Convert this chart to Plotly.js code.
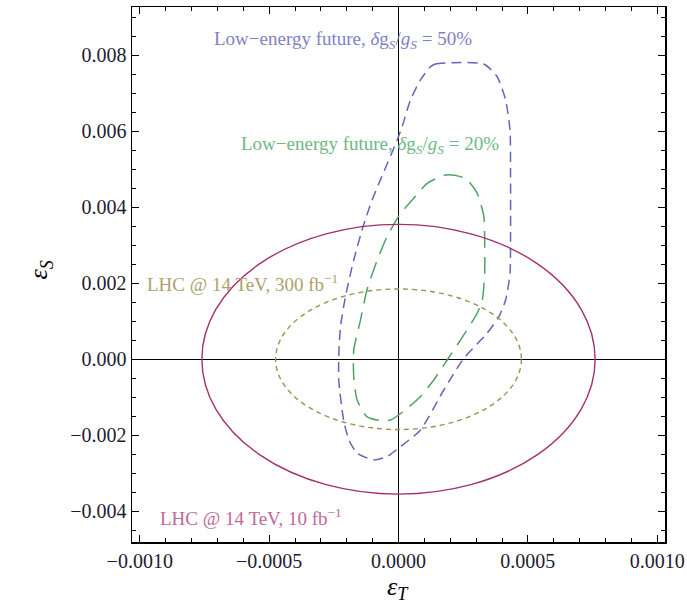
<!DOCTYPE html>
<html>
<head>
<meta charset="utf-8">
<script src="https://cdn.plot.ly/plotly-3.0.1.min.js"></script>
<style>html,body{margin:0;padding:0;background:#fff;}#chart{width:687px;height:605px;}</style>
</head>
<body>
<div id="chart"></div>
<script>
// Low-energy future, 50% contour (blue dashed)
const blueX = [0.000124, 0.000143, 0.000329, 0.000381, 0.000414, 0.000431, 0.000433, 0.000433, 0.000431, 0.000414, 0.000388, 0.000337, 0.000253, 0.000175, 0.000085, 0.000008, -0.000044, -0.000095, -0.00016, -0.000192, -0.000212, -0.000231, -0.00023, -0.000224, -0.000205, -0.000173, -0.000137, -0.000102, -0.00007, -0.000005, 0.000014, 0.000046, 0.000085, 0.000124];
const blueY = [0.00770, 0.00777, 0.00777, 0.00744, 0.00682, 0.00603, 0.00489, 0.00314, 0.00226, 0.00156, 0.00112, 0.00064, 0.00003, -0.00081, -0.00186, -0.0023, -0.00256, -0.00265, -0.00247, -0.00212, -0.0016, -0.00054, 0.00024, 0.00086, 0.00165, 0.00261, 0.00349, 0.00419, 0.00472, 0.00577, 0.00612, 0.00682, 0.00735, 0.00770];
// Low-energy future, 20% contour (green dashed)
const greenX = [0.000111, 0.000182, 0.000259, 0.000304, 0.00033, 0.000333, 0.000333, 0.000324, 0.000304, 0.00024, 0.000188, 0.000137, 0.000085, 0.000027, -0.000031, -0.000082, -0.000122, -0.00016, -0.000173, -0.000173, -0.000147, -0.000122, -0.000082, -0.000044, 0.000008, 0.000053, 0.000111];
const greenY = [0.00463, 0.00485, 0.00476, 0.00437, 0.00375, 0.00314, 0.00226, 0.00156, 0.00121, 0.00051, -0.00002, -0.00054, -0.00098, -0.00133, -0.0016, -0.0016, -0.00151, -0.00107, -0.00046, 0.00024, 0.00103, 0.00182, 0.00261, 0.00323, 0.00384, 0.00419, 0.00463];
// LHC ellipses: [centerX, centerY, semiAxisX, semiAxisY]
const lhc10 = [0, 0, 0.00076, 0.00355];
const lhc300 = [0, 0, 0.000475, 0.00185];
// Labels
const labelTexts = [
  "Low\u2212energy future, <i>\u03b4</i>g<sub><i>S</i></sub>/<i>g<sub>S</sub></i> = 50%",
  "Low\u2212energy future, <i>\u03b4</i>g<sub><i>S</i></sub>/<i>g<sub>S</sub></i> = 20%",
  "LHC @ 14 TeV, 300 fb<sup>\u22121</sup>",
  "LHC @ 14 TeV, 10 fb<sup>\u22121</sup>"
];
const labelX = [-0.00072, -0.000615, -0.00098, -0.00093];
const labelY = [0.0084, 0.00564, 0.00201, -0.00415];
const labelColors = ["#7f7fc6", "#6fb883", "#ae9f6c", "#c0689c"];
const xTitle = '<i>\u03b5<sub>T</sub></i>';
const yTitle = '<i>\u03b5<sub>S</sub></i>';

function ellipseShape(e, color, dash) {
  return {type: 'circle', xref: 'x', yref: 'y',
    x0: e[0] - e[2], x1: e[0] + e[2], y0: e[1] - e[3], y1: e[1] + e[3],
    line: {color: color, width: 1.4, dash: dash}};
}

const traces = [
  {x: blueX, y: blueY, mode: 'lines', line: {color: '#6464bd', width: 1.5, dash: '10px,6px', shape: 'spline', smoothing: 0.6}, hoverinfo: 'skip'},
  {x: greenX, y: greenY, mode: 'lines', line: {color: '#4fa262', width: 1.5, dash: '17px,9px', shape: 'spline', smoothing: 0.6}, hoverinfo: 'skip'}
];

const tickFont = {family: 'Liberation Serif, Times New Roman, serif', size: 20, color: '#1c1c30'};
const titleFont = {family: 'Liberation Serif, serif', size: 26, color: '#000'};
const annotations = labelTexts.map((t, i) => ({
  text: t, x: labelX[i], y: labelY[i], xref: 'x', yref: 'y',
  xanchor: 'left', yanchor: 'middle', showarrow: false,
  font: {family: 'Liberation Serif, serif', size: 19, color: labelColors[i]}
}));
annotations.push({text: xTitle, xref: 'paper', yref: 'paper', x: 0.499, y: -0.0855,
  xanchor: 'center', yanchor: 'middle', showarrow: false, borderpad: 0, font: titleFont});
annotations.push({text: yTitle, xref: 'paper', yref: 'paper', x: -0.172, y: 0.508,
  xanchor: 'center', yanchor: 'middle', showarrow: false, borderpad: 0, textangle: -90, font: titleFont});

const layout = {
  width: 687, height: 605,
  margin: {l: 132, r: 22, t: 7, b: 63},
  paper_bgcolor: '#fff', plot_bgcolor: '#fff',
  showlegend: false,
  xaxis: {
    range: [-0.00103, 0.00103], tickvals: [-0.001, -0.0005, 0, 0.0005, 0.001], tickformat: '.4f',
    ticks: 'inside', ticklen: 7, tickcolor: '#000', tickwidth: 1,
    minor: {dtick: 0.0001, tick0: 0, ticks: 'inside', ticklen: 4, tickcolor: '#000', tickwidth: 1},
    showline: true, linecolor: '#000', linewidth: 1.5, mirror: 'ticks',
    showgrid: false, zeroline: true, zerolinecolor: '#000', zerolinewidth: 1.3,
    tickfont: tickFont
  },
  yaxis: {
    range: [-0.00481, 0.00927], tickvals: [-0.004, -0.002, 0, 0.002, 0.004, 0.006, 0.008], tickformat: '.3f',
    ticks: 'inside', ticklen: 7, tickcolor: '#000', tickwidth: 1,
    minor: {dtick: 0.0005, tick0: 0, ticks: 'inside', ticklen: 4, tickcolor: '#000', tickwidth: 1},
    showline: true, linecolor: '#000', linewidth: 1.5, mirror: 'ticks',
    showgrid: false, zeroline: true, zerolinecolor: '#000', zerolinewidth: 1.3,
    tickfont: tickFont
  },
  shapes: [
    ellipseShape(lhc10, '#a3306f', 'solid'),
    ellipseShape(lhc300, '#a09050', '5px,4px')
  ],
  annotations: annotations
};

Plotly.newPlot('chart', traces, layout, {staticPlot: true, displayModeBar: false});
</script>
</body>
</html>
